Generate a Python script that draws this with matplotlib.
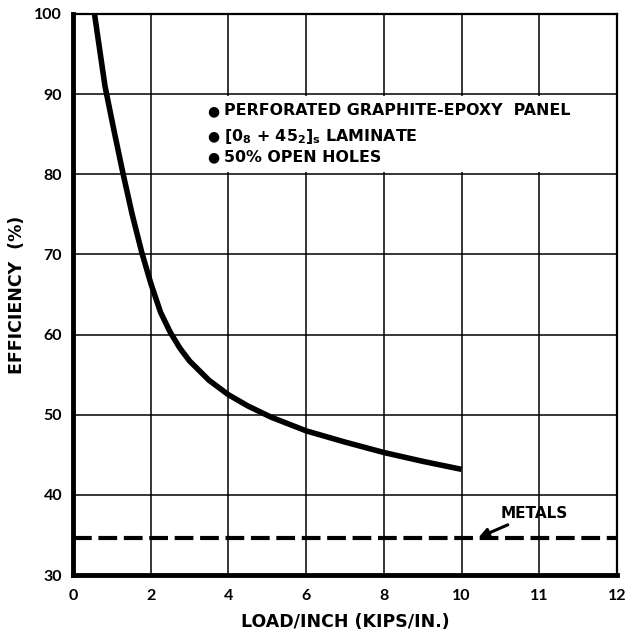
import matplotlib.pyplot as plt
from matplotlib.patches import Rectangle

# data
load = [0.55, 0.82, 1.05, 1.28, 1.52, 1.77, 2.0, 2.25, 2.5, 2.75, 3.0, 3.5, 4.0, 4.5, 5.1, 6.0, 7.0, 8.0, 9.0, 10.0]
efficiency = [100, 91, 85.5, 80.2, 75, 70.2, 66.4, 62.8, 60.3, 58.3, 56.7, 54.3, 52.5, 51.1, 49.7, 48.0, 46.6, 45.3, 44.2, 43.2]
metals_level = 34.7

x_ticks = [0, 2, 4, 6, 8, 10, 12, 14]
x_labels = ['0', '2', '4', '6', '8', '10', '11', '12']
y_ticks = [30, 40, 50, 60, 70, 80, 90, 100]

notes = [
    'PERFORATED GRAPHITE-EPOXY  PANEL',
    r'[0$_\mathbf{8}$ + 45$_\mathbf{2}$]$_\mathbf{s}$ LAMINATE',
    '50% OPEN HOLES',
]

plt.rcParams['font.family'] = ['DejaVu Sans']
plt.rcParams['mathtext.fontset'] = 'dejavusans'

fig = plt.figure(figsize=(6.25, 6.3), dpi=100)
ax = fig.add_axes([0.117, 0.087, 0.87, 0.891])

ax.set_xlim(0, 14)
ax.set_ylim(30, 100)
ax.set_xticks(x_ticks)
ax.set_xticklabels(x_labels)
ax.set_yticks(y_ticks)
ax.tick_params(length=0, labelsize=11.5, pad=8)
ax.tick_params(axis='x', pad=10)
for lab in ax.get_xticklabels() + ax.get_yticklabels():
    lab.set_fontweight('bold')
    lab.set_family(['Lato', 'DejaVu Sans'])

ax.grid(True, color='black', linewidth=1.1)
ax.set_axisbelow(True)

for side in ['left', 'bottom']:
    ax.spines[side].set_linewidth(3.5)
for side in ['top', 'right']:
    ax.spines[side].set_linewidth(1.6)

# white patch behind the notes hides grid lines
ax.add_patch(Rectangle((3.2, 80.3), 10.7, 9.4, facecolor='white', edgecolor='none', zorder=1))

ax.plot(load, efficiency, color='black', linewidth=4, solid_capstyle='butt',
        solid_joinstyle='round', zorder=3)
ax.axhline(metals_level, color='black', linewidth=3, dashes=(4.5, 1.6), zorder=3)

note_y = [87.9, 84.7, 82.1]
for txt, yy in zip(notes, note_y):
    ax.text(3.45, yy, '\u25cf', fontsize=10, va='center', ha='left', zorder=4)
    ax.text(3.88, yy, txt, fontsize=11.4, fontweight='bold', va='center', ha='left', zorder=4)

ax.annotate('METALS', xy=(10.44, metals_level), xytext=(11.0, 37.7),
            fontsize=11, fontweight='bold', va='center', ha='left', zorder=4,
            arrowprops=dict(arrowstyle='-|>', color='black', lw=2.2, mutation_scale=14,
                            shrinkA=2, shrinkB=0))

ax.set_xlabel('LOAD/INCH (KIPS/IN.)', fontsize=12.5, fontweight='bold', labelpad=7)
ax.set_ylabel('EFFICIENCY  (%)', fontsize=12.5, fontweight='bold', labelpad=6)

fig.savefig('out.png', dpi=100)
